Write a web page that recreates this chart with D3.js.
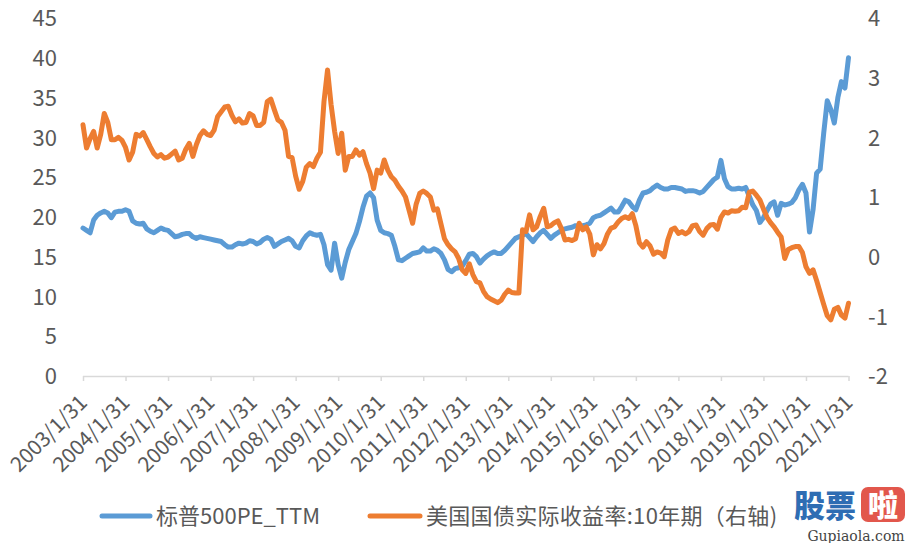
<!DOCTYPE html>
<html><head><meta charset="utf-8">
<script src="https://cdn.jsdelivr.net/npm/d3@7"></script>
<style>body{margin:0;background:#fff}svg{display:block}text{font-family:"Noto Sans CJK SC","Noto Sans",sans-serif}</style>
</head><body><svg id="c" width="909" height="543"></svg>
<script>
const startMonth = "2003-01";
const peTTM = [
18.6,18.3,18.0,19.6,20.2,20.5,20.7,20.5,19.9,20.6,20.7,20.7,
20.9,20.7,19.5,19.2,19.1,19.2,18.5,18.2,18.0,18.3,18.6,18.4,
18.3,17.9,17.5,17.6,17.8,17.9,17.9,17.5,17.3,17.5,17.4,17.3,
17.2,17.1,17.0,16.9,16.5,16.2,16.2,16.5,16.7,16.6,16.7,17.0,
16.9,16.6,16.8,17.2,17.4,17.2,16.3,16.6,16.9,17.1,17.3,17.0,
16.3,16.1,17.0,17.6,18.0,17.8,17.7,17.8,16.5,14.0,13.3,16.7,
14.0,12.3,14.3,15.9,16.9,17.9,19.4,21.2,22.6,23.0,22.4,19.6,
18.3,18.0,17.9,17.7,16.3,14.6,14.5,14.8,15.1,15.4,15.5,15.6,
16.1,15.7,15.7,16.0,15.8,15.4,14.6,13.4,13.1,13.5,13.6,13.8,
14.5,15.3,15.4,15.0,14.2,14.7,15.1,15.4,15.6,15.4,15.4,15.8,
16.3,16.8,17.3,17.5,17.7,17.9,17.4,16.9,17.5,18.0,18.3,17.8,
17.3,17.7,18.0,18.3,18.5,18.6,18.7,18.9,18.9,18.9,19.0,19.2,
19.9,20.1,20.2,20.5,20.8,21.1,20.6,20.6,21.3,22.1,21.9,21.3,
20.9,22.1,23.0,23.1,23.3,23.7,24.0,23.7,23.5,23.5,23.7,23.7,
23.6,23.5,23.2,23.3,23.3,23.2,23.0,23.2,23.7,24.2,24.7,25.0,
27.1,24.8,23.8,23.5,23.5,23.6,23.5,23.7,22.6,21.5,20.8,19.3,
19.9,20.8,21.6,21.9,20.2,21.7,21.5,21.6,21.8,22.4,23.4,24.1,
23.0,18.1,20.9,25.5,26.0,30.5,34.6,33.5,31.8,35.0,37.0,36.2,40.0
];
const realYield10y = [
2.21,1.82,1.98,2.10,1.82,2.05,2.40,2.25,1.96,1.96,2.00,1.95,
1.83,1.62,1.75,2.05,2.02,2.08,1.96,1.84,1.73,1.67,1.71,1.65,
1.67,1.72,1.77,1.62,1.65,1.80,1.90,1.68,1.88,2.03,2.11,2.05,
2.03,2.12,2.35,2.43,2.51,2.52,2.37,2.26,2.31,2.24,2.25,2.40,
2.36,2.20,2.20,2.25,2.60,2.64,2.46,2.29,2.25,2.12,1.68,1.66,
1.35,1.13,1.26,1.50,1.56,1.51,1.65,1.75,2.60,3.13,2.55,2.10,
1.73,2.07,1.45,1.68,1.68,1.79,1.70,1.76,1.56,1.40,1.14,1.45,
1.40,1.62,1.45,1.34,1.28,1.18,1.10,1.00,0.78,0.56,0.88,1.06,
1.10,1.06,1.00,0.78,0.80,0.55,0.30,0.20,0.13,0.08,-0.03,-0.22,
-0.28,-0.12,-0.30,-0.42,-0.44,-0.58,-0.67,-0.71,-0.74,-0.77,-0.73,-0.63,
-0.56,-0.60,-0.61,-0.61,0.45,0.42,0.70,0.45,0.50,0.67,0.81,0.50,
0.52,0.57,0.60,0.47,0.28,0.29,0.27,0.30,0.56,0.45,0.50,0.38,
0.03,0.20,0.13,0.22,0.38,0.48,0.50,0.58,0.64,0.67,0.64,0.72,
0.52,0.23,0.16,0.25,0.18,0.04,0.08,0.06,0.00,0.28,0.45,0.48,
0.39,0.42,0.38,0.42,0.52,0.53,0.42,0.36,0.47,0.53,0.54,0.46,
0.66,0.75,0.73,0.77,0.76,0.77,0.83,0.82,1.08,1.10,1.03,0.95,
0.80,0.66,0.57,0.50,0.41,0.33,-0.03,0.12,0.15,0.17,0.17,0.07,
-0.17,-0.28,-0.22,-0.40,-0.60,-0.80,-0.99,-1.06,-0.88,-0.85,-0.98,-1.03,-0.78
];
const tickLabels = ["2003/1/31","2004/1/31","2005/1/31","2006/1/31","2007/1/31","2008/1/31","2009/1/31","2010/1/31","2011/1/31","2012/1/31","2013/1/31","2014/1/31","2015/1/31","2016/1/31","2017/1/31","2018/1/31","2019/1/31","2020/1/31","2021/1/31"];
const leftTicks = [0,5,10,15,20,25,30,35,40,45];
const rightTicks = [-2,-1,0,1,2,3,4];
const seriesNames = ["标普500PE_TTM","美国国债实际收益率:10年期（右轴)"];
const colors = ["#5B9BD5","#ED7D31"];

// month-end category labels
const fmt = d3.utcFormat("%Y/%-m/%-d");
const start = d3.utcParse("%Y-%m")(startMonth);
const categories = peTTM.map((_, i) => fmt(d3.utcDay.offset(d3.utcMonth.offset(start, i + 1), -1)));

const svg = d3.select("#c");
svg.append("rect").attr("width",909).attr("height",543).attr("fill","#fff");

const x = d3.scalePoint().domain(categories).range([83, 848.5]);
const yL = d3.scaleLinear().domain([0,45]).range([376,18]);
const yR = d3.scaleLinear().domain([-2,4]).range([376,18]);

const textColor = "#595959";
// left axis
const gL = svg.append("g").attr("transform","translate(57,0)")
  .call(d3.axisLeft(yL).tickValues(leftTicks).tickSize(0).tickPadding(0));
gL.select(".domain").remove();
gL.selectAll("text").attr("fill",textColor).style("font-size","22px").attr("dy","0.35em");
// right axis
const gR = svg.append("g").attr("transform","translate(868,0)")
  .call(d3.axisRight(yR).tickValues(rightTicks).tickSize(0).tickPadding(0).tickFormat(d => d < 0 ? "-" + Math.abs(d) : d));
gR.select(".domain").remove();
gR.selectAll("text").attr("fill",textColor).style("font-size","22px").attr("dy","0.35em");

// bottom axis
const tickCats = categories.filter((c, i) => i % 12 === 0);
const gX = svg.append("g").attr("transform","translate(0,376)")
  .call(d3.axisBottom(x).tickValues(tickCats).tickSize(5).tickFormat((d, i) => tickLabels[i]));
gX.select(".domain").attr("stroke","#d9d9d9").attr("stroke-width",1.5).attr("d","M83,0.5H848.5");
gX.selectAll(".tick line").attr("stroke","#d9d9d9").attr("stroke-width",1.5);
gX.selectAll("text").attr("fill",textColor).style("font-size","21px")
  .attr("text-anchor","end").attr("dy","0").attr("y",0)
  .attr("transform","translate(5,28) rotate(-45)");

// lines
const lineL = d3.line().x((d,i) => x(categories[i])).y(d => yL(d));
const lineR = d3.line().x((d,i) => x(categories[i])).y(d => yR(d));
svg.append("path").datum(peTTM).attr("d",lineL).attr("fill","none")
  .attr("stroke",colors[0]).attr("stroke-width",5).attr("stroke-linejoin","round").attr("stroke-linecap","round");
svg.append("path").datum(realYield10y).attr("d",lineR).attr("fill","none")
  .attr("stroke",colors[1]).attr("stroke-width",5).attr("stroke-linejoin","round").attr("stroke-linecap","round");

// legend
const legendItems = [{x1:102,x2:150,tx:156,ls:0},{x1:370,x2:420,tx:426,ls:0.3}];
legendItems.forEach((it, i) => {
  svg.append("line").attr("x1",it.x1).attr("x2",it.x2).attr("y1",516).attr("y2",516)
    .attr("stroke",colors[i]).attr("stroke-width",5).attr("stroke-linecap","round");
  svg.append("text").attr("x",it.tx).attr("y",516).attr("dy","0.35em")
    .attr("fill",textColor).style("font-size","22px").style("letter-spacing", it.ls + "px").text(seriesNames[i]);
});

// watermark
const wm = svg.append("g");
wm.append("text").attr("x",794).attr("y",517).attr("fill","#2f6db3")
  .style("font-size","31px").style("font-weight","900").text("股票");
wm.append("rect").attr("x",861).attr("y",487).attr("width",44).attr("height",35).attr("rx",7).attr("fill","#e2574c");
wm.append("text").attr("x",883).attr("y",516).attr("text-anchor","middle").attr("fill","#fff")
  .style("font-size","30px").style("font-weight","900").text("啦");
wm.append("text").attr("x",856).attr("y",541).attr("text-anchor","middle").attr("fill","#444")
  .style("font-family","'DejaVu Serif',serif").style("font-size","14px").text("Gupiaola.com");
</script></body></html>
